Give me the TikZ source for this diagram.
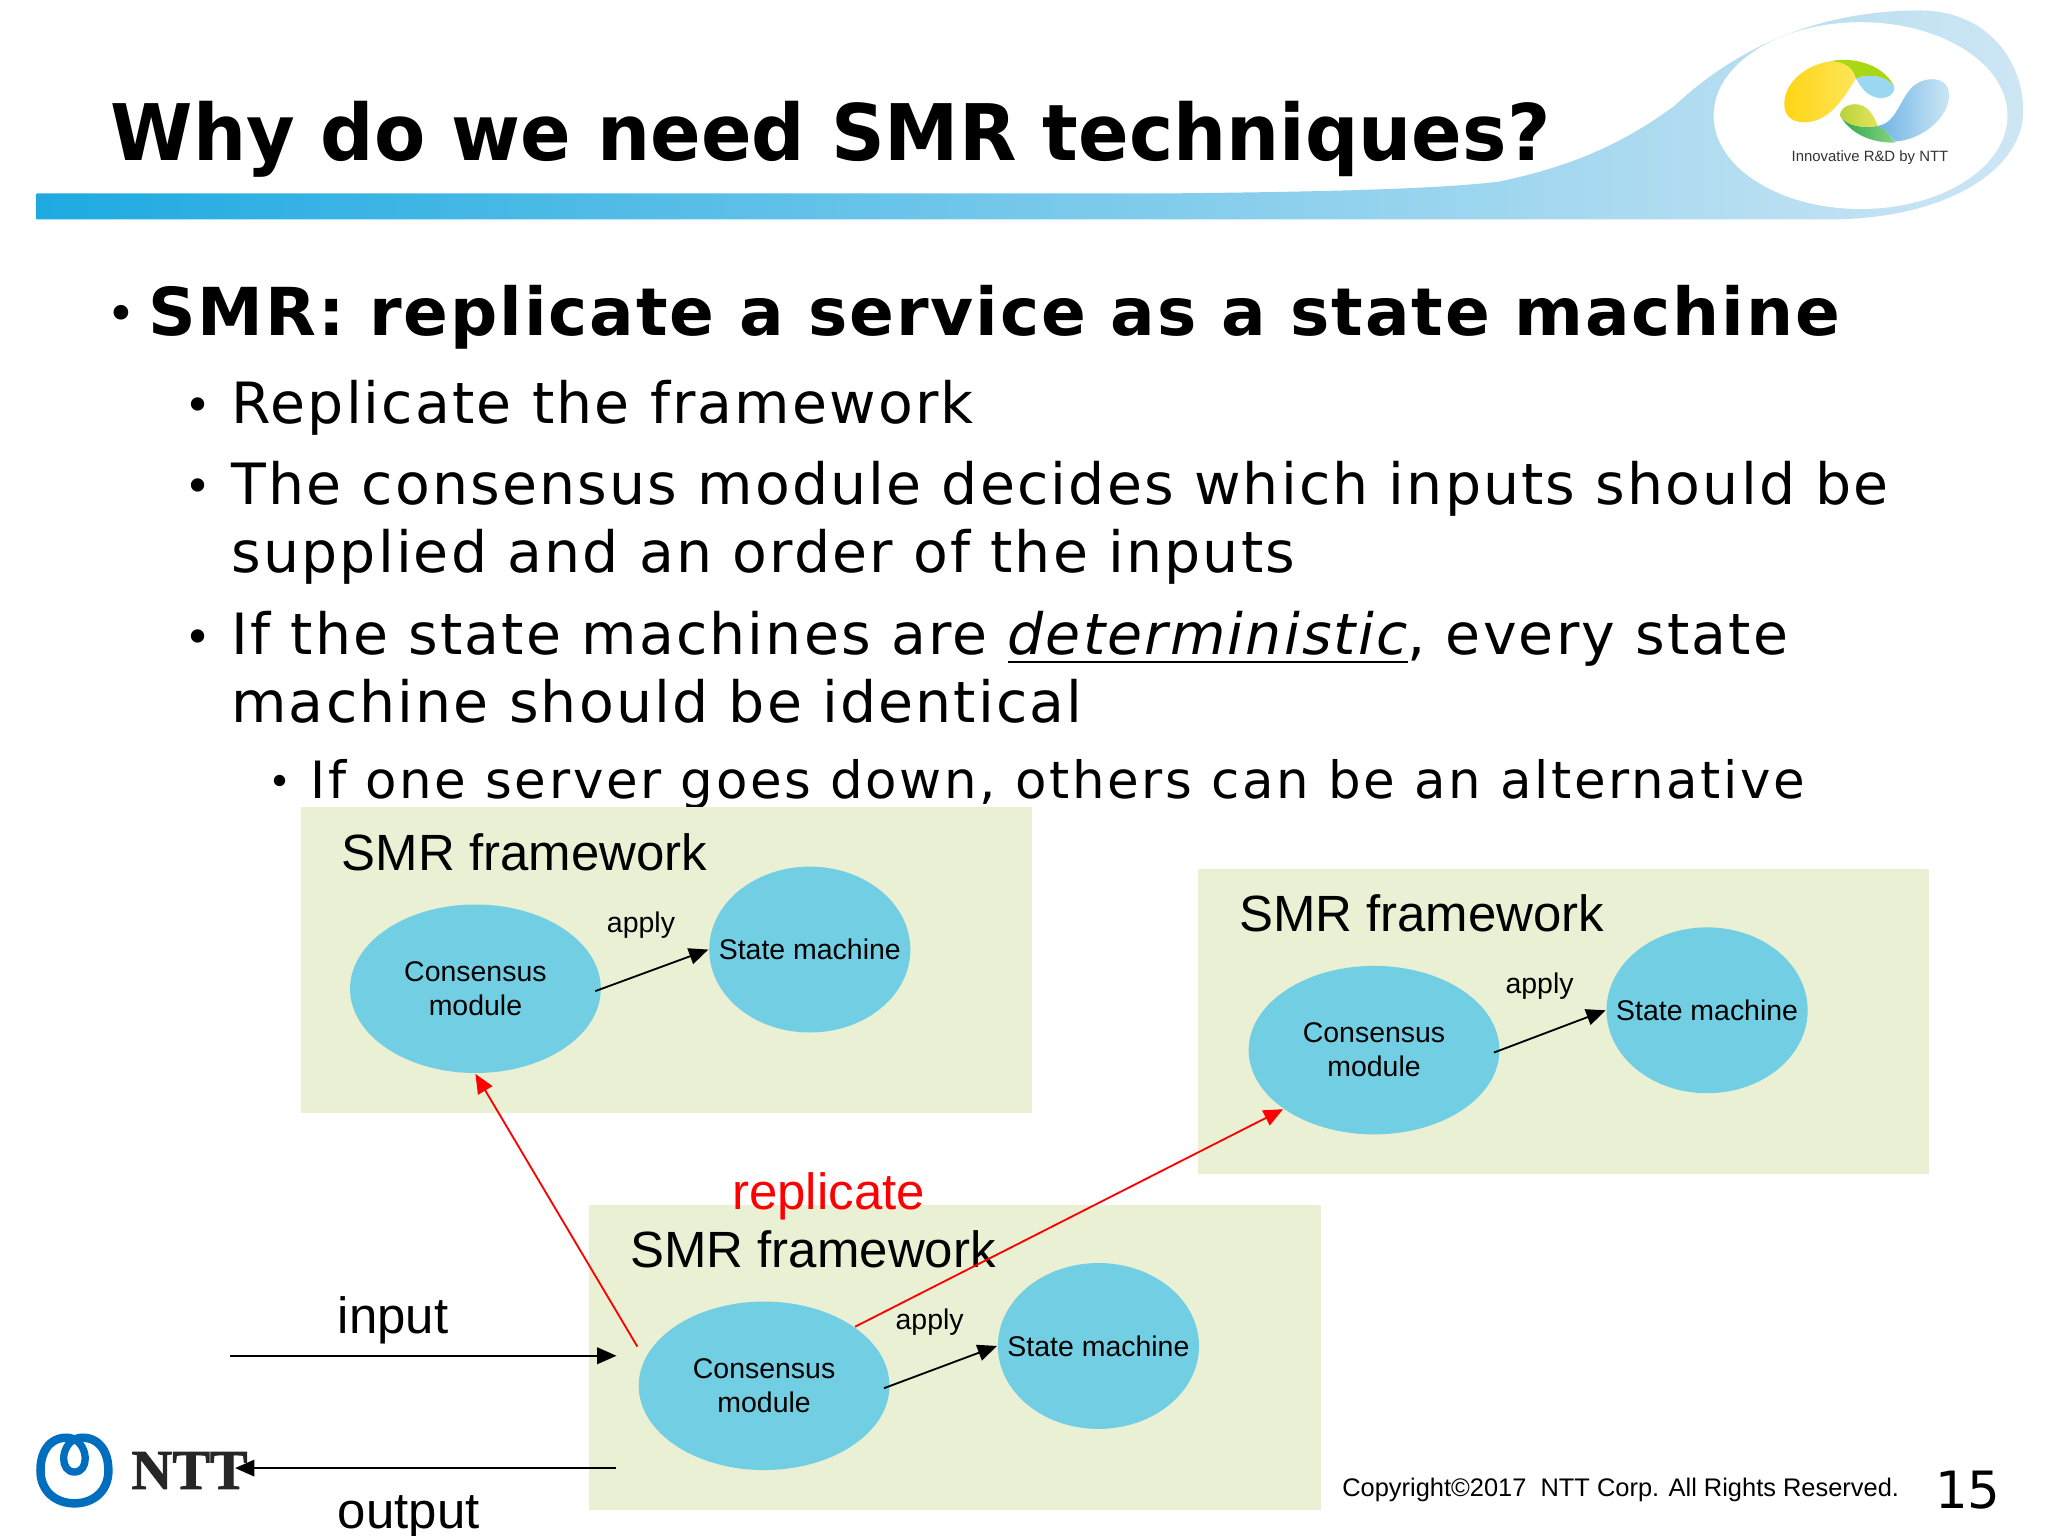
\documentclass[tikz,border=0pt]{standalone}
\usepackage{fontspec}
\usepackage{tikz}
\usetikzlibrary{arrows.meta,positioning,shapes.geometric}
\setmainfont{Liberation Sans}
\newfontfamily\titlefont[FakeStretch=0.957]{DejaVu Sans}
\newfontfamily\verdanafont{DejaVu Sans}
\newfontfamily\leadfont[LetterSpace=2.74]{DejaVu Sans}
\newfontfamily\subfont[LetterSpace=3.77]{DejaVu Sans}
\newfontfamily\subsubfont[LetterSpace=5.23]{DejaVu Sans}
\newfontfamily\slabfont[BoldFeatures={FakeBold=1.5}]{Liberation Serif}
\definecolor{rPanel}{RGB}{233,240,212}
\definecolor{rBubble}{RGB}{114,207,227}
\definecolor{rBarLeft}{RGB}{30,170,225}
\definecolor{rBarRight}{RGB}{205,230,244}
\definecolor{rNtt}{RGB}{0,110,190}
\definecolor{rGold}{RGB}{255,212,20}
\definecolor{rLemon}{RGB}{255,230,90}
\definecolor{rLeaf}{RGB}{170,215,20}
\definecolor{rSky}{RGB}{155,215,240}
\definecolor{rDeep}{RGB}{110,180,230}
\definecolor{rOlive}{RGB}{185,210,60}
\definecolor{rPale}{RGB}{228,228,90}
\definecolor{rGrass}{RGB}{45,165,70}
\definecolor{rMint}{RGB}{135,212,135}
\begin{document}
\begin{tikzpicture}[
			x=0.1mm,y=-0.1mm,
			>={Triangle[length=4.2pt,width=3.6pt]},
			panel/.style={fill=rPanel,minimum width=56mm,minimum height=23.4mm,inner sep=0pt,anchor=north west},
			consensus/.style={ellipse,fill=rBubble,minimum width=19.2mm,minimum height=12.9mm,inner xsep=-5pt,inner ysep=-5pt,align=center,font=\fontsize{6.2}{7.4}\selectfont},
			machine/.style={ellipse,fill=rBubble,minimum width=15.4mm,minimum height=12.7mm,inner xsep=-5pt,inner ysep=-5pt,align=center,font=\fontsize{6.2}{7.4}\selectfont},
			frametext/.style={anchor=base west,inner sep=0pt,font=\fontsize{11.1}{13}\selectfont},
			applytext/.style={anchor=base west,inner sep=0pt,font=\fontsize{6.2}{7.4}\selectfont},
			heading/.style={anchor=base west,inner sep=0pt,font=\titlefont\bfseries\fontsize{17}{20}\selectfont},
			lvlone/.style={anchor=base west,inner sep=0pt,font=\leadfont\bfseries\fontsize{14.4}{17}\selectfont},
			lvltwo/.style={anchor=base west,inner sep=0pt,font=\subfont\fontsize{12.4}{15}\selectfont},
			lvlthree/.style={anchor=base west,inner sep=0pt,font=\subsubfont\fontsize{11.2}{13}\selectfont},
			bulletmark/.style={anchor=base,inner sep=0pt},
			apply/.style={->,line width=0.4pt,shorten <=-1.5pt},
			repl/.style={->,red,line width=0.4pt},
			io/.style={->,line width=0.4pt}
			]
			\useasboundingbox (0,0) rectangle (1568,1176);
			\fill[white] (0,0) rectangle (1568,1176);
			% header
			\shade[left color=rBarLeft,right color=rBarRight] (28,148) -- (900,148) .. controls (1000,147) and (1100,145) .. (1148,139) .. controls (1200,128) and (1240,112) .. (1282,81) .. controls (1310,55) and (1370,8) .. (1470,8) .. controls (1520,8) and (1549,45) .. (1549,85) .. controls (1549,130) and (1490,168) .. (1400,168) -- (28,168) -- cycle;
			\fill[white] (1424.5,88.5) ellipse [x radius=112.5,y radius=71.5];
			\begin{scope}[shift={(1148.5,0.4)},x=0.02676mm,y=-0.0254mm]
				\shade[left color=rGold,right color=rLemon] (945,183) .. controls (870,195) and (812,250) .. (813,315) .. controls (815,355) and (845,372) .. (885,366) .. controls (950,355) and (985,290) .. (1018,235) .. controls (1010,200) and (985,185) .. (945,183) -- cycle;
				\fill[rLeaf] (945,183) .. controls (1000,170) and (1090,185) .. (1128,258) .. controls (1100,225) and (1050,220) .. (1018,235) .. controls (1010,200) and (985,185) .. (945,183) -- cycle;
				\fill[rSky] (1018,235) .. controls (1050,220) and (1105,225) .. (1128,260) .. controls (1130,290) and (1090,305) .. (1060,285) .. controls (1040,275) and (1030,255) .. (1018,235) -- cycle;
				\shade[left color=rDeep,right color=rBarRight] (1080,378) .. controls (1130,370) and (1140,310) .. (1175,265) .. controls (1210,225) and (1285,225) .. (1285,285) .. controls (1285,350) and (1210,420) .. (1130,425) .. controls (1115,405) and (1100,385) .. (1080,378) -- cycle;
				\shade[left color=rGrass,right color=rMint] (972,345) .. controls (1000,400) and (1060,430) .. (1130,428) .. controls (1115,405) and (1100,385) .. (1080,378) .. controls (1040,385) and (990,380) .. (972,345) -- cycle;
				\shade[left color=rOlive,right color=rPale] (972,345) .. controls (975,315) and (1020,300) .. (1050,325) .. controls (1065,340) and (1075,360) .. (1080,378) .. controls (1040,385) and (990,380) .. (972,345) -- cycle;
			\end{scope}
			\node[anchor=base west,inner sep=0pt,font=\fontsize{3.25}{4}\selectfont,text=black!80] (tagline) at (1371,124) {Innovative R\&D by NTT};
			\node[heading] (title) at (84,122.5) {Why do we need SMR techniques?};
			% bullets
			\node[bulletmark,font=\verdanafont\fontsize{11}{13}\selectfont] (dota) at (93,254) {•};
			\node[lvlone] (smr) at (113,256.5) {SMR: replicate a service as a state machine};
			\node[bulletmark,font=\verdanafont\fontsize{10}{12}\selectfont] (dotb) at (152,323) {•};
			\node[lvltwo] (rep) at (176.5,324) {Replicate the framework};
			\node[bulletmark,font=\verdanafont\fontsize{10}{12}\selectfont] (dotc) at (152,385) {•};
			\node[lvltwo] (cons) at (176.5,386) {The consensus module decides which inputs should be};
			\node[lvltwo] (consb) at (176.5,438) {supplied and an order of the inputs};
			\node[bulletmark,font=\verdanafont\fontsize{10}{12}\selectfont] (dotd) at (152,500) {•};
			\node[lvltwo] (det) at (176.5,501) {If the state machines are \underline{\itshape deterministic}, every state};
			\node[lvltwo] (detb) at (176.5,553) {machine should be identical};
			\node[bulletmark,font=\verdanafont\fontsize{8.5}{10}\selectfont] (dote) at (214,609) {•};
			\node[lvlthree] (down) at (237,611) {If one server goes down, others can be an alternative};
			% frameworks
			\node[panel] (fwa) at (229.5,617.5) {};
			\node[panel] (fwb) at (916.5,664.5) {};
			\node[panel] (fwc) at (450.5,921.5) {};
			\node[frametext] (fwatext) at (261,666.5) {SMR framework};
			\node[frametext] (fwbtext) at (948,713.5) {SMR framework};
			\node[frametext] (fwctext) at (482,970.5) {SMR framework};
			\node[consensus] (consa) at (364,757) {Consensus\\module};
			\node[machine] (statea) at (620,727) {State machine};
			\node[consensus] (consb2) at (1052,804) {Consensus\\module};
			\node[machine] (stateb) at (1307,773.5) {State machine};
			\node[consensus] (consc) at (585,1061) {Consensus\\module};
			\node[machine] (statec) at (841,1030.5) {State machine};
			\node[applytext] (applya) at (464,714) {apply};
			\node[applytext] (applyb) at (1152,761) {apply};
			\node[applytext] (applyc) at (685,1018) {apply};
			\draw[apply] (consa.east) -- (statea.west);
			\draw[apply] (consb2.east) -- (stateb.west);
			\draw[apply] (consc.east) -- (statec.west);
			% replication
			\coordinate (replstart) at (488,1031);
			\draw[repl] (replstart) -- (consa.south);
			\draw[repl] (consc.33.5) -- (consb2.213.5);
			\node[frametext,text=red] (repltext) at (560,926) {replicate};
			% logo
			\draw[rNtt,line width=1.85pt] (57,1102) .. controls (47,1098) and (31,1103) .. (31,1126) .. controls (31,1142) and (43,1151) .. (57,1151) .. controls (71,1151) and (83,1142) .. (83,1126) .. controls (83,1103) and (67,1098) .. (57,1102) -- cycle;
			\draw[rNtt,line width=1.6pt] (57,1102) .. controls (46,1108) and (46,1127) .. (57,1127) .. controls (68,1127) and (68,1108) .. (57,1102) -- cycle;
			\node[anchor=base west,inner sep=0pt,font=\slabfont\bfseries\fontsize{12.3}{15}\selectfont,text=black!85] (ntt) at (100,1140) {NTT};
			% input and output
			\coordinate (infrom) at (176,1038);
			\coordinate (into) at (472,1038);
			\coordinate (outfrom) at (472,1124);
			\coordinate (outto) at (180,1124);
			\draw[io] (infrom) -- (into);
			\draw[io] (outfrom) -- (outto);
			\node[frametext] (inputtext) at (258,1021) {input};
			\node[frametext] (outputtext) at (258,1170) {output};
			% footer
			\node[anchor=base west,inner sep=0pt,font=\fontsize{5.54}{7}\selectfont] (copy) at (1027,1146) {Copyright©2017\ \ NTT Corp. All Rights Reserved.};
			\node[anchor=base west,inner sep=0pt,font=\verdanafont\fontsize{11.2}{13}\selectfont] (page) at (1481,1155) {15};
		\end{tikzpicture}
\end{document}
